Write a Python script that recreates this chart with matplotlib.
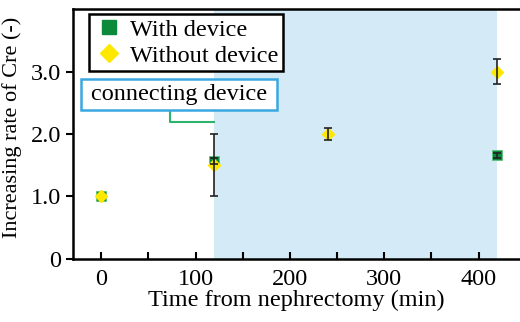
import matplotlib.pyplot as plt
from matplotlib.lines import Line2D
from matplotlib.patches import Rectangle

plt.rcParams['font.family'] = 'Liberation Serif'

# data
time_with = [0, 120, 420]
rate_with = [1.0, 1.57, 1.66]
err_with = [0.0, 0.05, 0.04]

time_without = [0, 120, 240, 420]
rate_without = [1.0, 1.5, 2.0, 3.0]
err_without = [0.0, 0.5, 0.1, 0.2]

connect_start = 120
connect_end = 420

fig = plt.figure(figsize=(5.2, 3.22), dpi=100)
ax = fig.add_axes([0.1404, 0.1957, 0.8596, 0.7763])

ax.axvspan(connect_start, connect_end, color='#d5eaf7', zorder=0, lw=0)

ax.plot(time_with, rate_with, 's', color='#0c8a3c', mec='#5cc27a', mew=0.6,
        ms=7.5, zorder=3)
ax.plot(time_without, rate_without, 'D', color='#ffe800', mec='#ffe800',
        ms=6.5, zorder=4)

# only draw error bars where there is a spread
for t, r, e in list(zip(time_with, rate_with, err_with)) + \
        list(zip(time_without, rate_without, err_without)):
    if e > 0:
        ax.errorbar(t, r, yerr=e, fmt='none', ecolor='#222222',
                    elinewidth=1.2, capsize=3, capthick=1.2, zorder=5)

ax.set_xlim(-30, 444)
ax.set_ylim(0, 4)
ax.set_xticks([0, 100, 200, 300, 400])
ax.set_xticks([50, 150, 250, 350], minor=True)
ax.set_yticks([0, 1, 2, 3])
ax.set_yticklabels(['0', '1.0', '2.0', '3.0'])
ax.tick_params(axis='x', which='both', direction='in', length=5, width=1.5,
               labelsize=17.5, pad=7)
ax.tick_params(axis='y', direction='out', length=5, width=1.5, labelsize=17.5)

for side in ['left', 'bottom', 'top']:
    ax.spines[side].set_linewidth(1.8)
ax.spines['right'].set_visible(False)

ax.set_xlabel('Time from nephrectomy (min)', fontsize=17.5, labelpad=0)
ax.set_ylabel('Increasing rate of Cre (-)', fontsize=16)
ax.yaxis.set_label_coords(-0.114, 0.528)

handles = [
    Line2D([], [], marker='s', ls='none', color='#0c8a3c', ms=9.5),
    Line2D([], [], marker='D', ls='none', color='#ffe800', ms=9.5),
]
leg = ax.legend(handles, ['With device', 'Without device'], loc='upper left',
                bbox_to_anchor=(0.035, 0.98), fontsize=17.5, frameon=True,
                fancybox=False, edgecolor='black', framealpha=1,
                borderpad=0.2, handletextpad=0.2, labelspacing=0.15,
                handlelength=1.3, borderaxespad=0)
leg.get_frame().set_linewidth(1.8)

# annotation box for the connection period
ax.add_patch(Rectangle((-21, 2.38), 207, 0.5, fc='white', ec='#3aa8e0',
                       lw=1.8, zorder=6))
ax.text(82, 2.64, 'connecting device', fontsize=17.5, va='center',
        ha='center', zorder=7)
ax.plot([73, 73, connect_start], [2.38, 2.2, 2.2], color='#2db36b', lw=1.5,
        zorder=2)

fig.savefig('out.png', dpi=100)
